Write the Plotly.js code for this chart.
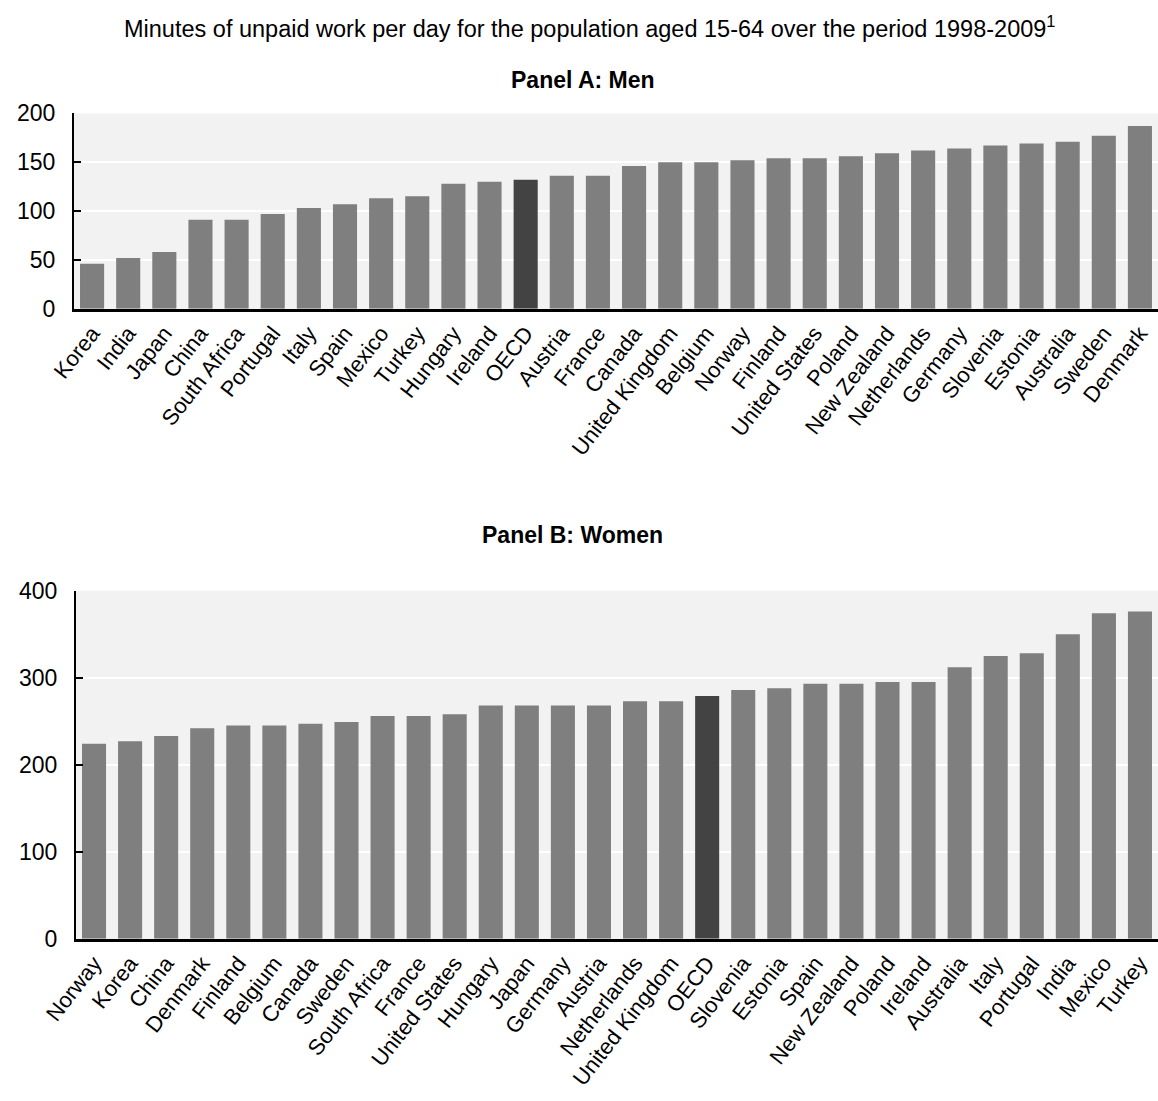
<!DOCTYPE html>
<html>
<head>
<meta charset="utf-8">
<script src="https://cdn.plot.ly/plotly-3.0.1.min.js"></script>
<style>html,body{margin:0;padding:0;background:#fff;}#chart{width:1158px;height:1101px;}</style>
</head>
<body>
<div id="chart"></div>
<script>
// Panel A: Men
const menCountries = ["Korea","India","Japan","China","South Africa","Portugal","Italy","Spain","Mexico","Turkey","Hungary","Ireland","OECD","Austria","France","Canada","United Kingdom","Belgium","Norway","Finland","United States","Poland","New Zealand","Netherlands","Germany","Slovenia","Estonia","Australia","Sweden","Denmark"];
const menMinutes = [46,52,58,91,91,97,103,107,113,115,128,130,132,136,136,146,150,150,152,154,154,156,159,162,164,167,169,171,177,187];

// Panel B: Women
const womenCountries = ["Norway","Korea","China","Denmark","Finland","Belgium","Canada","Sweden","South Africa","France","United States","Hungary","Japan","Germany","Austria","Netherlands","United Kingdom","OECD","Slovenia","Estonia","Spain","New Zealand","Poland","Ireland","Australia","Italy","Portugal","India","Mexico","Turkey"];
const womenMinutes = [224,227,233,242,245,245,247,249,256,256,258,268,268,268,268,273,273,279,286,288,293,293,295,295,312,325,328,350,374,376];

const menTicks = [0,50,100,150,200];
const womenTicks = [0,100,200,300,400];

const titleText = "Minutes of unpaid work per day for the population aged 15-64 over the period 1998-2009<sup>1</sup>";
const panelATitle = "Panel A: Men";
const panelBTitle = "Panel B: Women";

const barColor = "#7f7f7f";
const oecdColor = "#434343";
const colorsFor = cats => cats.map(c => c === "OECD" ? oecdColor : barColor);

const H = 1101, W = 1158;
const font = "Liberation Sans, Arial, sans-serif";

const traces = [
  {type:"bar", x: menCountries, y: menMinutes, xaxis:"x", yaxis:"y",
   marker:{color: colorsFor(menCountries)}, hoverinfo:"x+y"},
  {type:"bar", x: womenCountries, y: womenMinutes, xaxis:"x2", yaxis:"y2",
   marker:{color: colorsFor(womenCountries)}, hoverinfo:"x+y"}
];

const yCommon = {
  showline:true, linecolor:"#000", linewidth:2, ticks:"inside", ticklen:7, tickwidth:2, tickcolor:"#000",
  showgrid:true, gridcolor:"#ffffff", gridwidth:2, zeroline:false,
  tickfont:{family:font, size:23, color:"#000"}, ticklabelstandoff:12, fixedrange:true
};
const xCommon = {
  showline:true, linecolor:"#000", linewidth:3, ticks:"", showgrid:false, zeroline:false,
  tickangle:-52, tickfont:{family:font, size:22, color:"#000"}, fixedrange:true
};

const layout = {
  width: W, height: H,
  margin:{l:74, r:0, t:0, b:0},
  paper_bgcolor:"#ffffff", plot_bgcolor:"#f2f2f2",
  showlegend:false, bargap:0.333,
  font:{family:font, color:"#000"},
  xaxis: Object.assign({}, xCommon, {domain:[0,1], anchor:"y"}),
  yaxis: Object.assign({}, yCommon, {domain:[1-308.7/H, 1-113.3/H], range:[0,200], tickvals: menTicks, anchor:"x"}),
  xaxis2: Object.assign({}, xCommon, {domain:[2/1084,1], anchor:"y2"}),
  yaxis2: Object.assign({}, yCommon, {domain:[1-938.7/H, 1-590.7/H], range:[0,400], tickvals: womenTicks, anchor:"x2"}),
  annotations:[
    {text:titleText, xref:"paper", yref:"paper", x:(590-74)/1084, y:1-27/H, xanchor:"center", yanchor:"middle", showarrow:false,
     font:{family:font, size:23.5, color:"#000"}},
    {text:"<b>"+panelATitle+"</b>", xref:"paper", yref:"paper", x:(583-74)/1084, y:1-80/H, xanchor:"center", yanchor:"middle", showarrow:false,
     font:{family:font, size:23, color:"#000"}},
    {text:"<b>"+panelBTitle+"</b>", xref:"paper", yref:"paper", x:(572-74)/1084, y:1-535/H, xanchor:"center", yanchor:"middle", showarrow:false,
     font:{family:font, size:23, color:"#000"}}
  ]
};

Plotly.newPlot("chart", traces, layout, {displayModeBar:false, staticPlot:true});
</script>
</body>
</html>
